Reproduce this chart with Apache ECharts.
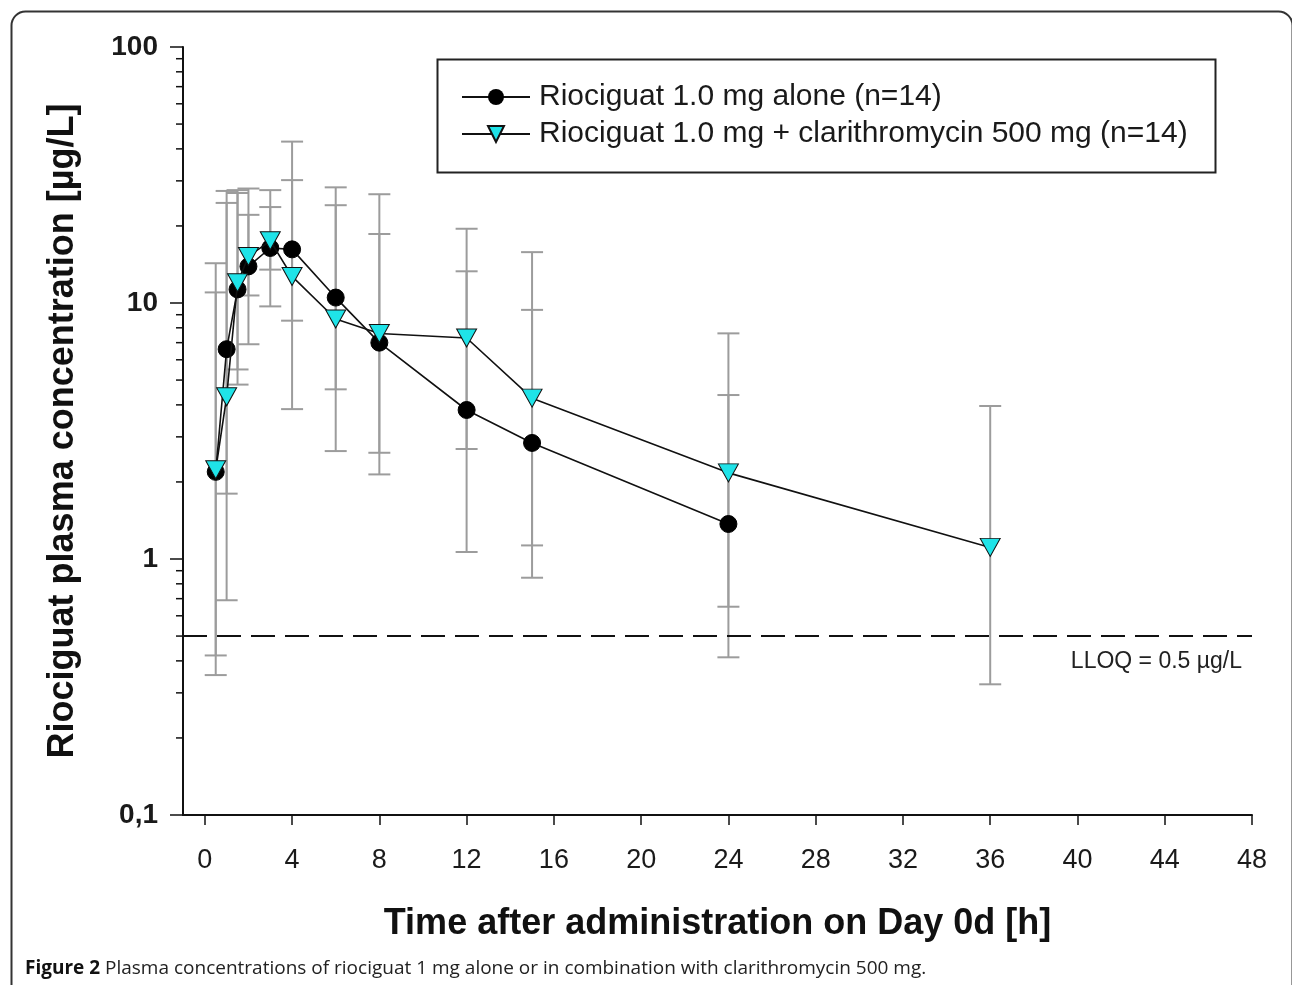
<!DOCTYPE html>
<html>
<head>
<meta charset="utf-8">
<script src="https://cdn.jsdelivr.net/npm/echarts@6/dist/echarts.min.js"></script>
<style>
html,body{margin:0;padding:0;background:#fff;}
#chart{width:1292px;height:985px;}
</style>
</head>
<body>
<div id="chart"></div>
<script>
// ---- data ----
const timesAlone = [0.5, 1, 1.5, 2, 3, 4, 6, 8, 12, 15, 24];
const aloneMean  = [2.19, 6.6, 11.3, 13.9, 16.4, 16.2, 10.5, 7.0, 3.82, 2.84, 1.37];
const aloneHigh  = [14.3, 24.6, 26.9, 28.0, 27.6, 30.2, 24.1, 18.6, 13.3, 9.4, 4.37];
const aloneLow   = [0.352, 1.8, 5.5, 6.9, 9.7, 8.53, 4.6, 2.6, 1.065, 0.845, 0.413];

const timesClari = [0.5, 1, 1.5, 2, 3, 4, 6, 8, 12, 15, 24, 36];
const clariMean  = [2.23, 4.3, 12.0, 15.2, 17.5, 12.7, 8.66, 7.6, 7.3, 4.25, 2.17, 1.11];
const clariHigh  = [11.0, 27.4, 27.6, 22.1, 23.7, 42.7, 28.3, 26.6, 19.5, 15.8, 7.61, 3.96];
const clariLow   = [0.42, 0.69, 4.8, 10.7, 13.5, 3.85, 2.64, 2.14, 2.69, 1.13, 0.651, 0.324];

const xTicks = [0, 4, 8, 12, 16, 20, 24, 28, 32, 36, 40, 44, 48];
const yMinorTicks = [0.2,0.3,0.4,0.5,0.6,0.7,0.8,0.9, 2,3,4,5,6,7,8,9, 20,30,40,50,60,70,80,90];
const lloq = 0.5;

const seriesNames = ['Riociguat 1.0 mg alone (n=14)', 'Riociguat 1.0 mg + clarithromycin 500 mg (n=14)'];
const xTitle = 'Time after administration on Day 0d [h]';
const yTitle = 'Riociguat plasma concentration [µg/L]';
const captionBold = 'Figure 2';
const captionText = ' Plasma concentrations of riociguat 1 mg alone or in combination with clarithromycin 500 mg.';

// ---- build ----
const X_MIN = -1, X_MAX = 48;
const aloneData = timesAlone.map((t, i) => [t, aloneMean[i]]);
const clariData = timesClari.map((t, i) => [t, clariMean[i]]);
const aloneErr = timesAlone.map((t, i) => [t, aloneLow[i], aloneHigh[i]]);
const clariErr = timesClari.map((t, i) => [t, clariLow[i], clariHigh[i]]);

function errRender(params, api) {
  const x = api.value(0);
  const pl = api.coord([x, api.value(1)]);
  const ph = api.coord([x, api.value(2)]);
  const w = 11;
  const st = {stroke: '#9c9c9c', lineWidth: 2};
  return {
    type: 'group',
    children: [
      {type: 'line', shape: {x1: pl[0], y1: pl[1], x2: ph[0], y2: ph[1]}, style: st},
      {type: 'line', shape: {x1: ph[0] - w, y1: ph[1], x2: ph[0] + w, y2: ph[1]}, style: st},
      {type: 'line', shape: {x1: pl[0] - w, y1: pl[1], x2: pl[0] + w, y2: pl[1]}, style: st}
    ]
  };
}

function minorTickRender(params, api) {
  const p = api.coord([X_MIN, api.value(0)]);
  return {type: 'line', shape: {x1: p[0] - 7, y1: p[1], x2: p[0], y2: p[1]},
          style: {stroke: '#111', lineWidth: 1.5}};
}

const arial = '"Liberation Sans", Arial, sans-serif';

const chart = echarts.init(document.getElementById('chart'), null, {renderer: 'canvas'});
chart.setOption({
  animation: false,
  backgroundColor: '#fff',
  grid: {left: 183, right: 40, top: 47, bottom: 170, containLabel: false},
  xAxis: {
    type: 'value', min: X_MIN, max: X_MAX,
    name: xTitle, nameLocation: 'middle', nameGap: 91,
    nameTextStyle: {fontFamily: arial, fontWeight: 'bold', fontSize: 36, color: '#111'},
    axisLine: {onZero: false, lineStyle: {color: '#111', width: 2}},
    axisTick: {customValues: xTicks, length: 10, lineStyle: {color: '#111', width: 1.5}},
    axisLabel: {customValues: xTicks, margin: 32, fontFamily: arial, fontSize: 27, color: '#1a1a1a'},
    splitLine: {show: false}
  },
  yAxis: {
    type: 'log', logBase: 10, min: 0.1, max: 100,
    name: yTitle, nameLocation: 'middle', nameGap: 102,
    nameTextStyle: {fontFamily: arial, fontWeight: 'bold', fontSize: 36, color: '#111'},
    axisLine: {show: true, onZero: false, lineStyle: {color: '#111', width: 2}},
    axisTick: {show: true, length: 13, lineStyle: {color: '#111', width: 1.5}},
    axisLabel: {margin: 25, fontFamily: arial, fontWeight: 'bold', fontSize: 28, color: '#1a1a1a',
      formatter: v => String(v).replace('.', ',')},
    minorTick: {show: false},
    splitLine: {show: false}
  },
  legend: {
    left: 456, top: 77, orient: 'vertical', itemGap: 7,
    itemWidth: 68, itemHeight: 20,
    data: seriesNames,
    textStyle: {fontFamily: arial, fontSize: 30, lineHeight: 30, color: '#1a1a1a', padding: [0, 0, 0, 4]}
  },
  graphic: [
    {type: 'rect', left: 435, top: 57, shape: {width: 778, height: 113},
     style: {fill: 'none', stroke: '#222', lineWidth: 2}, z: 10},
    {type: 'rect', left: 9, top: 9, shape: {x: 0, y: 0, width: 1281, height: 1010, r: 14},
     style: {fill: 'none', stroke: '#333', lineWidth: 2}, z: 10},
    {type: 'text', left: 25, top: 959, z: 10,
     style: {text: '{b|' + captionBold + '}' + captionText,
       font: '19px "Open Sans", sans-serif', fill: '#222',
       rich: {b: {fontFamily: '"Open Sans", sans-serif', fontWeight: 'bold', fontSize: 19, fill: '#111'}}}}
  ],
  series: [
    {type: 'custom', name: 'errAlone', data: aloneErr, renderItem: errRender,
     encode: {x: 0, y: [1, 2]}, z: 1, silent: true},
    {type: 'custom', name: 'errClari', data: clariErr, renderItem: errRender,
     encode: {x: 0, y: [1, 2]}, z: 1, silent: true},
    {type: 'custom', name: 'minorTicks', data: yMinorTicks.map(v => [v]), renderItem: minorTickRender,
     encode: {y: 0}, z: 5, silent: true, clip: false},
    {type: 'line', name: seriesNames[0], data: aloneData, z: 3,
     symbol: 'circle', symbolSize: 17,
     lineStyle: {color: '#111', width: 1.6},
     itemStyle: {color: '#000', borderColor: '#000'},
     markLine: {
       silent: true, symbol: 'none',
       lineStyle: {type: [24, 10], color: '#111', width: 2},
       label: {show: true, position: 'insideEndBottom', formatter: 'LLOQ = ' + lloq + ' µg/L',
         fontFamily: arial, fontSize: 23, color: '#222', distance: [10, 14]},
       data: [{yAxis: lloq}]
     }},
    {type: 'line', name: seriesNames[1], data: clariData, z: 4,
     symbol: 'triangle', symbolSize: [20, 18], symbolRotate: 180,
     lineStyle: {color: '#111', width: 1.6},
     itemStyle: {color: '#1fe3e8', borderColor: '#111', borderWidth: 1}}
  ]
});
</script>
</body>
</html>
